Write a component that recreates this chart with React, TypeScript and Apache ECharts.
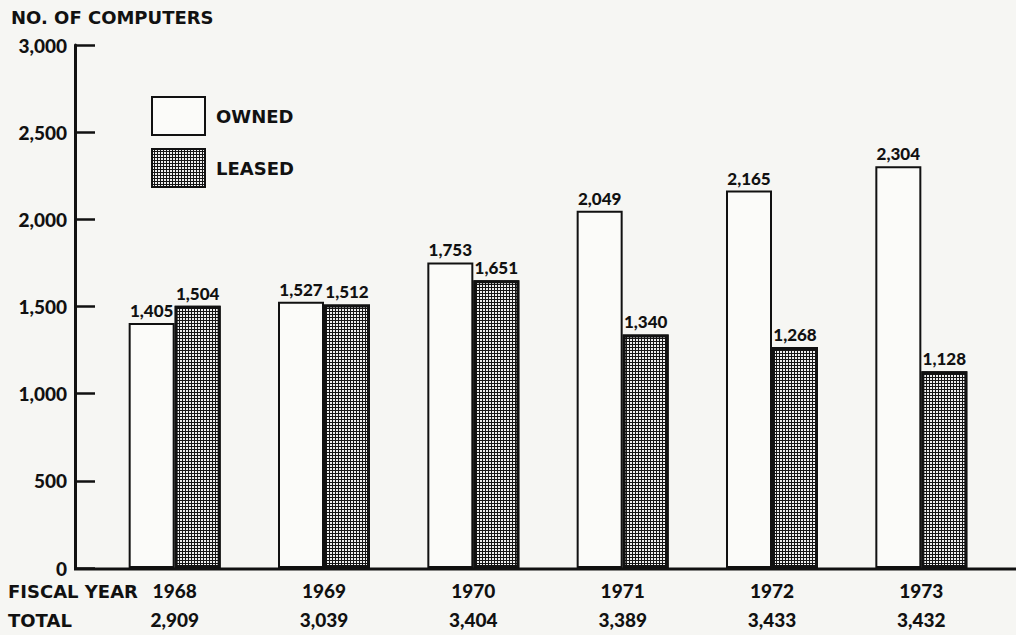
import React, { useEffect, useRef } from "react";
import * as echarts from "echarts";

const years = ["1968", "1969", "1970", "1971", "1972", "1973"];
const owned = [1405, 1527, 1753, 2049, 2165, 2304];
const leased = [1504, 1512, 1651, 1340, 1268, 1128];
const totals = [2909, 3039, 3404, 3389, 3433, 3432];
const yTicks = { min: 0, max: 3000, interval: 500 };

const NUM_FONT = "Lato, 'DejaVu Sans', sans-serif";
const CAP_FONT = "'DejaVu Sans', sans-serif";
const INK = "#111";
const fmt = (v: number) => v.toLocaleString("en-US");

export default function App() {
  const ref = useRef<HTMLDivElement>(null);
  useEffect(() => {
    if (!ref.current) return;
    const chart = echarts.init(ref.current, null, { renderer: "svg" });
    const labelStyle = {
      show: true,
      position: "top",
      distance: 4,
      color: INK,
      fontFamily: NUM_FONT,
      fontWeight: 900,
      fontSize: 17,
      formatter: (p: any) => fmt(p.value),
    };
    chart.setOption({
      animation: false,
      backgroundColor: "#f6f6f3",
      textStyle: { fontFamily: NUM_FONT, color: INK },
      title: {
        text: "NO. OF COMPUTERS",
        left: 6,
        top: 3,
        textStyle: { fontFamily: CAP_FONT, fontWeight: "bold", fontSize: 18, color: INK },
      },
      legend: {
        orient: "vertical",
        left: 146,
        top: 91,
        itemWidth: 53,
        itemHeight: 38,
        itemGap: 12,
        icon: "rect",
        textStyle: { fontFamily: CAP_FONT, fontWeight: "bold", fontSize: 18, color: INK, padding: [0, 0, 0, 6] },
        data: ["OWNED", "LEASED"],
      },
      grid: { left: 100, right: 20, top: 45, bottom: 67 },
      xAxis: {
        type: "category",
        data: years,
        axisLine: { show: false },
        axisTick: { show: false },
        axisLabel: {
          margin: 8,
          formatter: (v: string, i: number) => `{y|${v}}\n{t|${fmt(totals[i])}}`,
          rich: {
            y: { fontFamily: NUM_FONT, fontWeight: 900, fontSize: 19, color: INK, lineHeight: 29 },
            t: { fontFamily: NUM_FONT, fontWeight: 900, fontSize: 19, color: INK, lineHeight: 29 },
          },
        },
      },
      yAxis: {
        type: "value",
        min: yTicks.min,
        max: yTicks.max,
        interval: yTicks.interval,
        offset: 25,
        axisLine: { show: true, lineStyle: { color: INK, width: 3 } },
        axisTick: { show: true, inside: true, length: 20, lineStyle: { color: INK, width: 2.5 } },
        splitLine: { show: false },
        axisLabel: {
          margin: 8,
          color: INK,
          fontFamily: NUM_FONT,
          fontWeight: 900,
          fontSize: 19,
          formatter: (v: number) => fmt(v),
        },
      },
      series: [
        {
          name: "OWNED",
          type: "bar",
          data: owned,
          barWidth: 46,
          barGap: "0%",
          itemStyle: { color: "#fbfbf9", borderColor: INK, borderWidth: 2 },
          label: labelStyle,
        },
        {
          name: "LEASED",
          type: "bar",
          data: leased,
          barWidth: 46,
          itemStyle: {
            color: "#151515",
            borderColor: INK,
            borderWidth: 3,
            decal: {
              symbol: "rect",
              color: "#eeeeee",
              symbolSize: 1,
              dashArrayX: [2, 1],
              dashArrayY: [2, 1],
              rotation: 0,
            },
          },
          label: labelStyle,
        },
      ],
      graphic: [
        {
          type: "line",
          shape: { x1: 74, y1: 569, x2: 1016, y2: 569 },
          style: { stroke: INK, lineWidth: 3 },
          z: 10,
        },
        {
          type: "text",
          left: 8,
          top: 582,
          style: { text: "FISCAL YEAR", fontFamily: CAP_FONT, fontWeight: "bold", fontSize: 18, fill: INK },
        },
        {
          type: "text",
          left: 8,
          top: 611,
          style: { text: "TOTAL", fontFamily: CAP_FONT, fontWeight: "bold", fontSize: 18, fill: INK },
        },
      ],
    });
    return () => chart.dispose();
  }, []);
  return <div ref={ref} style={{ width: 1016, height: 635, position: "absolute", left: 0, top: 0 }} />;
}
